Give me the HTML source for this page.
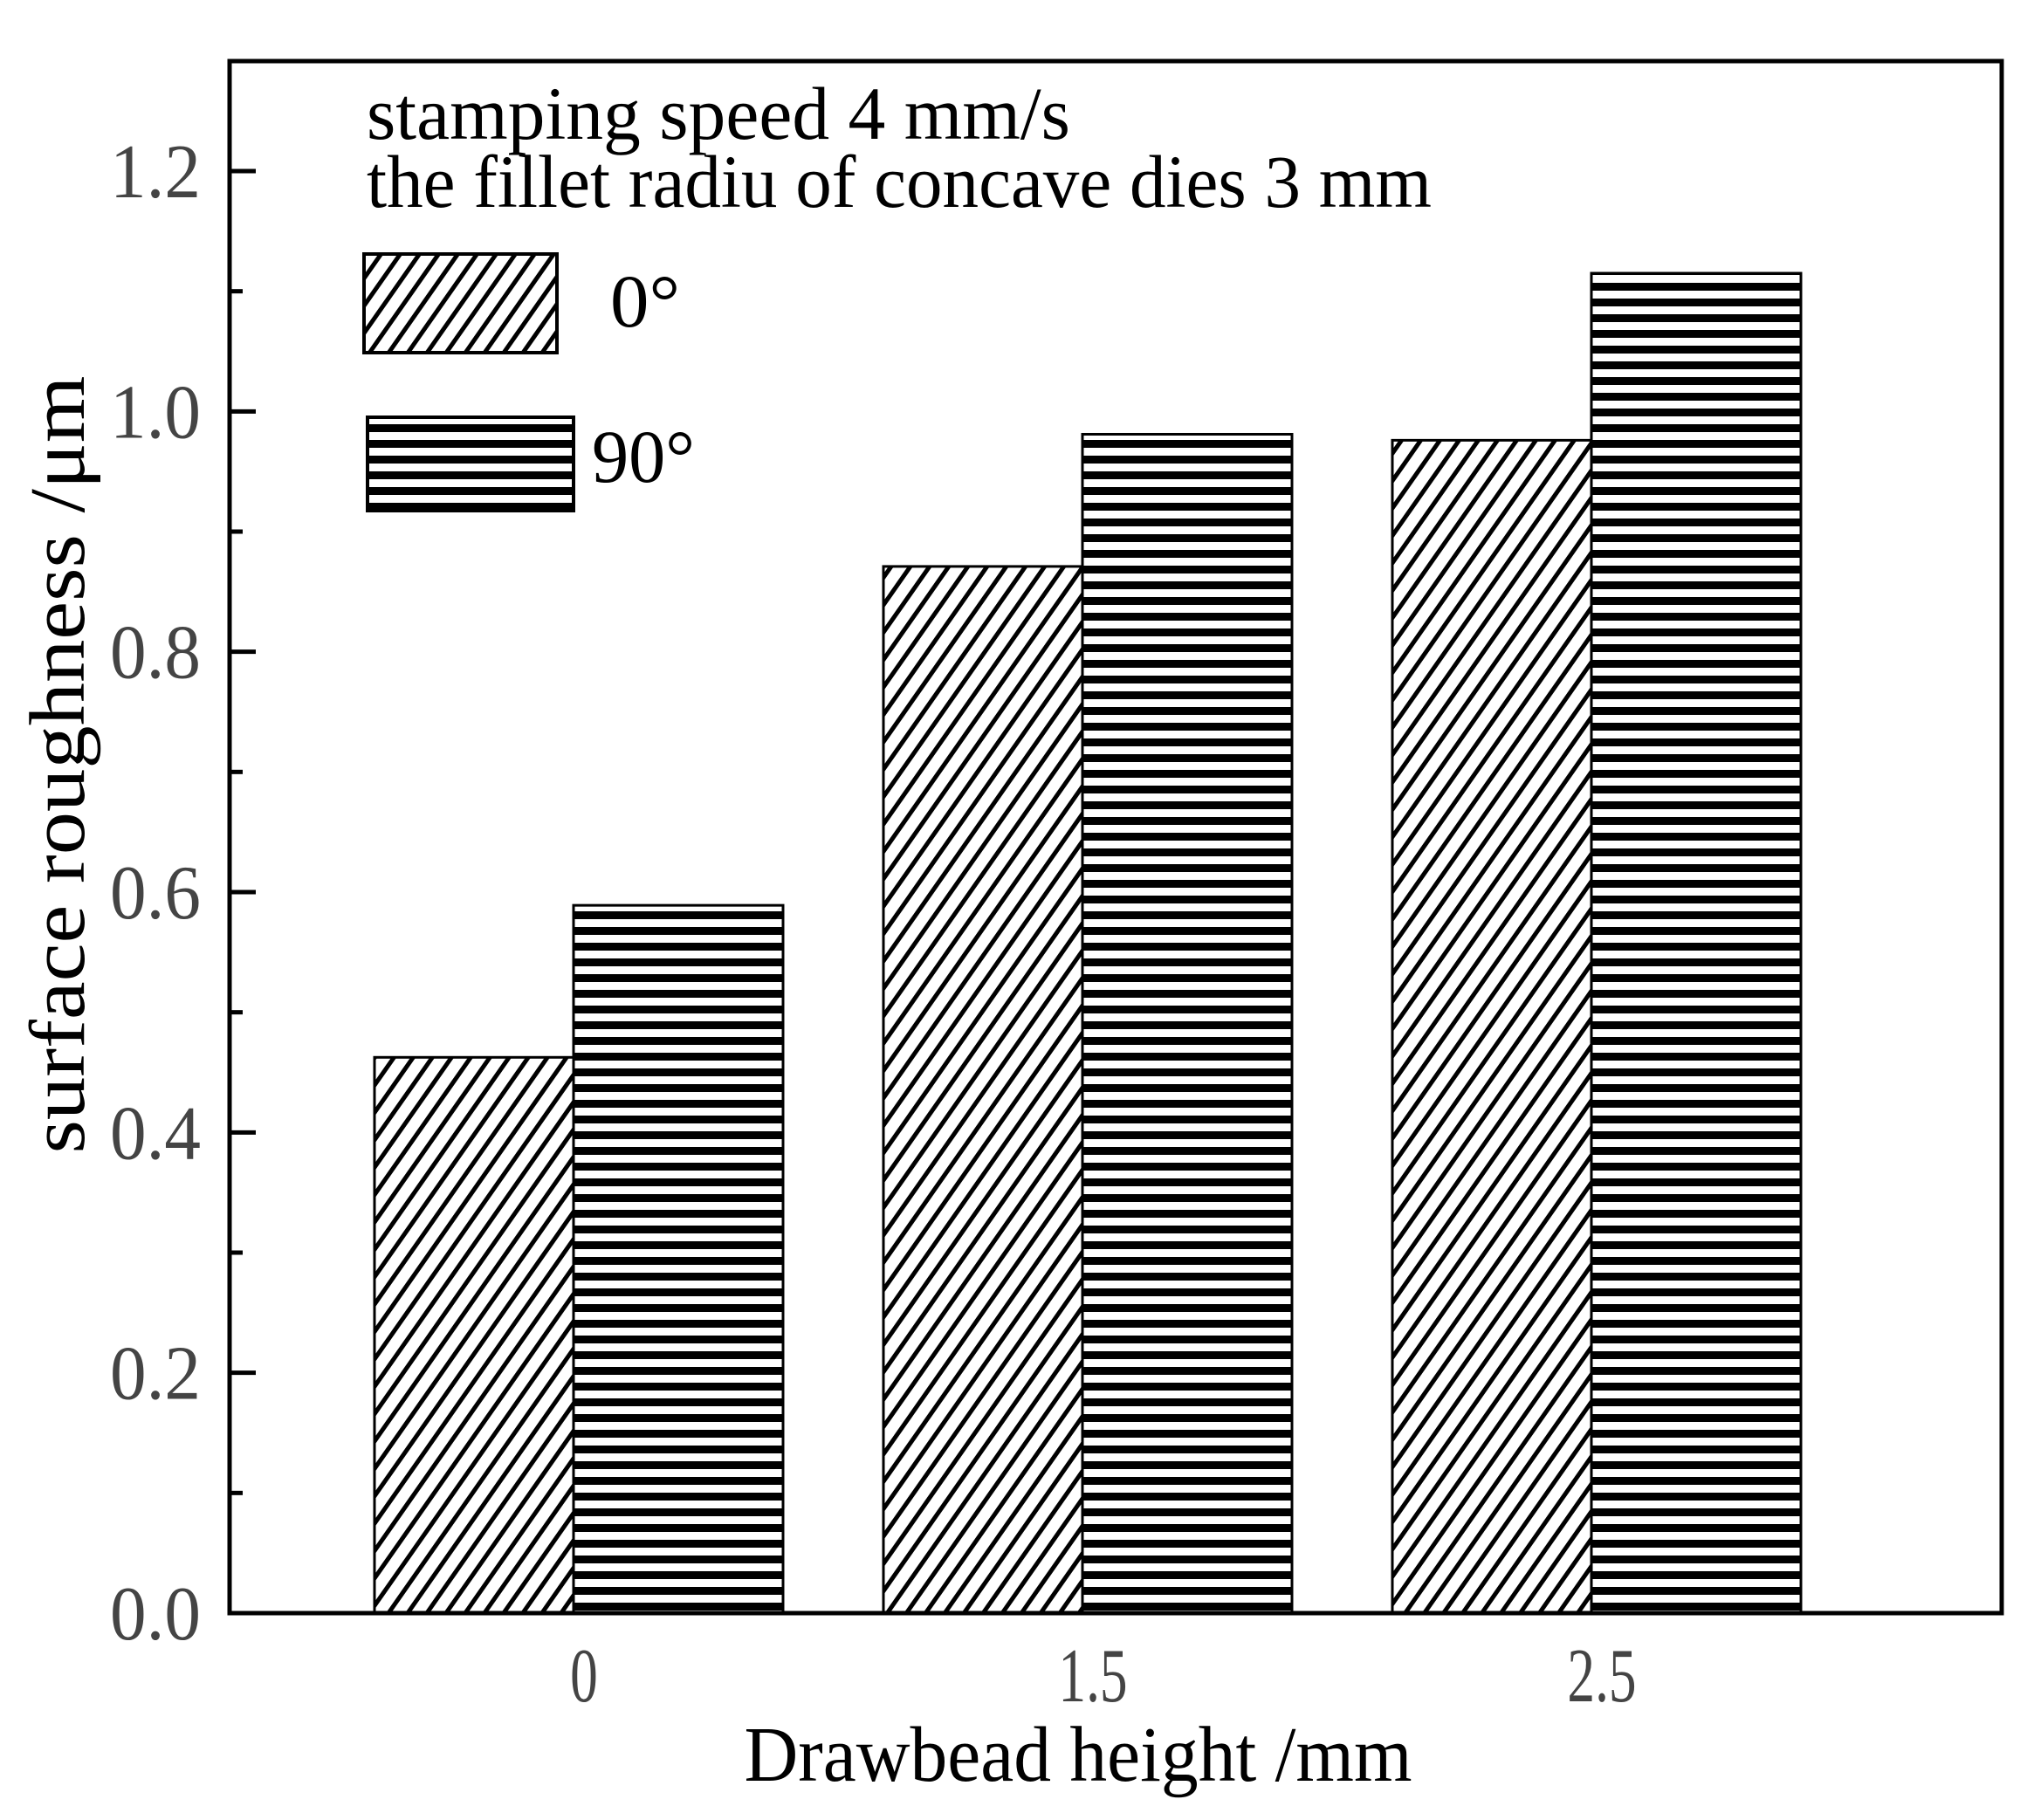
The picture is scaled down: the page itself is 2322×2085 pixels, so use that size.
<!DOCTYPE html>
<html><head><meta charset="utf-8"><style>html,body{margin:0;padding:0;background:#fff}svg{display:block}</style></head>
<body>
<svg id="chart" width="2322" height="2085" viewBox="0 0 2322 2085" xmlns="http://www.w3.org/2000/svg">
<defs>
<pattern id="diag" patternUnits="userSpaceOnUse" width="18" height="18" patternTransform="rotate(35)">
<rect width="18" height="18" fill="#fff"/><rect x="0" y="0" width="5" height="18" fill="#000"/></pattern>
<pattern id="horiz" patternUnits="userSpaceOnUse" width="18" height="18">
<rect width="18" height="18" fill="#fff"/><rect x="0" y="0" width="18" height="9" fill="#000"/></pattern>
</defs>
<g id="plot"></g>
</svg>
<script>
const categories = ["0", "1.5", "2.5"];
const series0 = [0.4625, 0.871, 0.976];
const series90 = [0.589, 0.981, 1.115];
const yTicks = [0.0, 0.2, 0.4, 0.6, 0.8, 1.0, 1.2];
const yTickLabels = ["0.0", "0.2", "0.4", "0.6", "0.8", "1.0", "1.2"];

const NS = "http://www.w3.org/2000/svg";
const L = 263, T = 70, R = 2293, B = 1848;
const yScale = v => B - v * (B - 196) / 1.2;
const xCenter = i => 657 + i * 583;
const g = document.getElementById('plot');
function mk(tag, attrs, parent) {
  const e = document.createElementNS(NS, tag);
  for (const k in attrs) e.setAttribute(k, attrs[k]);
  (parent || g).appendChild(e);
  return e;
}

categories.forEach((c, i) => {
  const cx = xCenter(i);
  const y0 = yScale(series0[i]);
  const b0 = mk('rect', {x: cx - 228, y: y0, width: 228, height: B - y0, fill: 'url(#diag)', stroke: '#000', 'stroke-width': 3});
  
  
  const y1 = yScale(series90[i]);
  const b1 = mk('rect', {x: cx, y: y1, width: 240, height: B - y1, fill: 'url(#horiz)', stroke: '#000', 'stroke-width': 3});
  
  
  const lx = cx + 12;
  const t = mk('text', {x: lx, y: 1949, 'font-family': 'Liberation Serif, serif', 'font-size': 88, 'text-anchor': 'middle', fill: '#444', transform: `translate(${lx},0) scale(0.72,1) translate(${-lx},0)`});
  t.textContent = c;
  
  
});

const fr = mk('rect', {x: L, y: T, width: R - L, height: B - T, fill: 'none', stroke: '#000', 'stroke-width': 5});



for (let k = 0; k <= 12; k++) {
  const y = yScale(k / 10);
  mk('line', {x1: L, x2: L + (k % 2 === 0 ? 30 : 15), y1: y, y2: y, stroke: '#000', 'stroke-width': 5});
}
yTicks.forEach((v, i) => {
  const y = yScale(v);
  const t = mk('text', {x: 230, y: y + 30, 'font-family': 'Liberation Serif, serif', 'font-size': 88, 'text-anchor': 'end', fill: '#444', textLength: 104, lengthAdjust: 'spacingAndGlyphs'});
  t.textContent = yTickLabels[i];
  
  
});
</script>
<svg style="position:absolute;left:0;top:0" width="2322" height="2085" xmlns="http://www.w3.org/2000/svg" font-family="Liberation Serif, serif">
<text x="420" y="159" font-size="86" textLength="806" lengthAdjust="spacingAndGlyphs">stamping speed  4 mm/s</text>
<text x="420" y="237" font-size="86" textLength="1220" lengthAdjust="spacingAndGlyphs">the fillet radiu of concave dies 3 mm</text>
<rect x="417" y="291" width="221" height="113" fill="url(#diag)" stroke="#000" stroke-width="4"/>
<text x="699" y="374" font-size="86" textLength="80" lengthAdjust="spacingAndGlyphs">0°</text>
<rect x="421" y="478" width="236" height="107" fill="url(#horiz)" stroke="#000" stroke-width="4"/>
<text x="678" y="552" font-size="86" textLength="118" lengthAdjust="spacingAndGlyphs">90°</text>
<text x="1235" y="2040" font-size="90" text-anchor="middle" textLength="765" lengthAdjust="spacingAndGlyphs">Drawbead height  /mm</text>
<text x="0" y="0" font-size="90" text-anchor="middle" textLength="891" lengthAdjust="spacingAndGlyphs" transform="translate(96,876) rotate(-90)">surface roughness /μm</text>
</svg>
</body></html>
